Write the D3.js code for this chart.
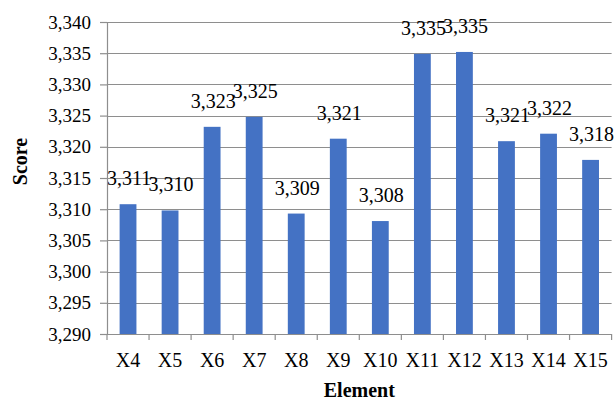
<!DOCTYPE html>
<html>
<head>
<meta charset="utf-8">
<script src="https://cdn.jsdelivr.net/npm/d3@7"></script>
<style>
  html, body { margin: 0; padding: 0; background: #fff; }
  svg { display: block; }
</style>
</head>
<body>
<svg id="chart" width="614" height="401"></svg>
<script>
// Element scores
const categories = ["X4", "X5", "X6", "X7", "X8", "X9", "X10", "X11", "X12", "X13", "X14", "X15"];
const scores = [3310.8, 3309.8, 3323.2, 3324.8, 3309.3, 3321.3, 3308.1, 3334.9, 3335.2, 3320.9, 3322.1, 3317.9];
const yTicks = [3290, 3295, 3300, 3305, 3310, 3315, 3320, 3325, 3330, 3335, 3340];

const FONT = "'Liberation Serif', 'Times New Roman', serif";
const svg = d3.select("#chart");
const margin = { left: 107, right: 2.4, top: 22, bottom: 67 };
const W = 614, H = 401;
const plotW = W - margin.left - margin.right;
const plotH = H - margin.top - margin.bottom;

const x = d3.scaleBand().domain(categories).range([0, plotW]).paddingInner(0.6).paddingOuter(0.3);
const y = d3.scaleLinear().domain([3290, 3340]).range([plotH, 0]);
const fmt = d3.format(",.0f");
const gridColor = "#8e8e8e";

const g = svg.append("g").attr("transform", `translate(${margin.left},${margin.top})`);

// horizontal gridlines
g.append("g")
  .selectAll("line")
  .data(yTicks.slice(1))
  .join("line")
  .attr("x1", 0).attr("x2", plotW)
  .attr("y1", d => Math.round(y(d)) + 0.5).attr("y2", d => Math.round(y(d)) + 0.5)
  .attr("stroke", gridColor).attr("stroke-width", 1.2);

// bars
g.append("g")
  .selectAll("rect")
  .data(categories)
  .join("rect")
  .attr("x", (d) => x(d))
  .attr("width", x.bandwidth())
  .attr("y", (d, i) => y(scores[i]))
  .attr("height", (d, i) => plotH - y(scores[i]))
  .attr("fill", "#4472C4");

// value labels
g.append("g")
  .selectAll("text")
  .data(categories)
  .join("text")
  .attr("x", d => x(d) + x.bandwidth() / 2 + 1)
  .attr("y", (d, i) => y(scores[i]) - 19)
  .attr("text-anchor", "middle")
  .style("font-family", FONT)
  .style("font-size", "20px")
  .text((d, i) => fmt(scores[i]));

// y axis
const yAxis = g.append("g")
  .call(d3.axisLeft(y).tickValues(yTicks).tickFormat(fmt).tickSize(7).tickPadding(9));
yAxis.attr("font-family", null).attr("font-size", null);
yAxis.select(".domain").attr("stroke", gridColor).attr("stroke-width", 1.2);
yAxis.selectAll(".tick line").attr("stroke", gridColor).attr("stroke-width", 1.2);
yAxis.selectAll(".tick text")
  .style("font-family", FONT)
  .style("font-size", "19px")
  .attr("fill", "#000");

// x axis with tick marks at category boundaries
const xAxisG = g.append("g").attr("transform", `translate(0,${plotH})`);
xAxisG.append("line")
  .attr("x1", 0).attr("x2", plotW).attr("y1", 0.5).attr("y2", 0.5)
  .attr("stroke", gridColor).attr("stroke-width", 1.2);
xAxisG.selectAll("line.edge")
  .data(d3.range(categories.length + 1))
  .join("line")
  .attr("class", "edge")
  .attr("x1", i => i * (plotW / categories.length))
  .attr("x2", i => i * (plotW / categories.length))
  .attr("y1", 0).attr("y2", 6)
  .attr("stroke", gridColor).attr("stroke-width", 1.2);
xAxisG.selectAll("text")
  .data(categories)
  .join("text")
  .attr("x", d => x(d) + x.bandwidth() / 2)
  .attr("y", 33)
  .attr("text-anchor", "middle")
  .style("font-family", FONT)
  .style("font-size", "20px")
  .text(d => d);

// axis titles
svg.append("text")
  .attr("x", margin.left + plotW / 2)
  .attr("y", 397)
  .attr("text-anchor", "middle")
  .style("font-family", FONT)
  .style("font-size", "20px")
  .style("font-weight", "bold")
  .text("Element");

svg.append("text")
  .attr("transform", "translate(27,161.5) rotate(-90)")
  .attr("text-anchor", "middle")
  .style("font-family", FONT)
  .style("font-size", "20px")
  .style("font-weight", "bold")
  .text("Score");
</script>
</body>
</html>
